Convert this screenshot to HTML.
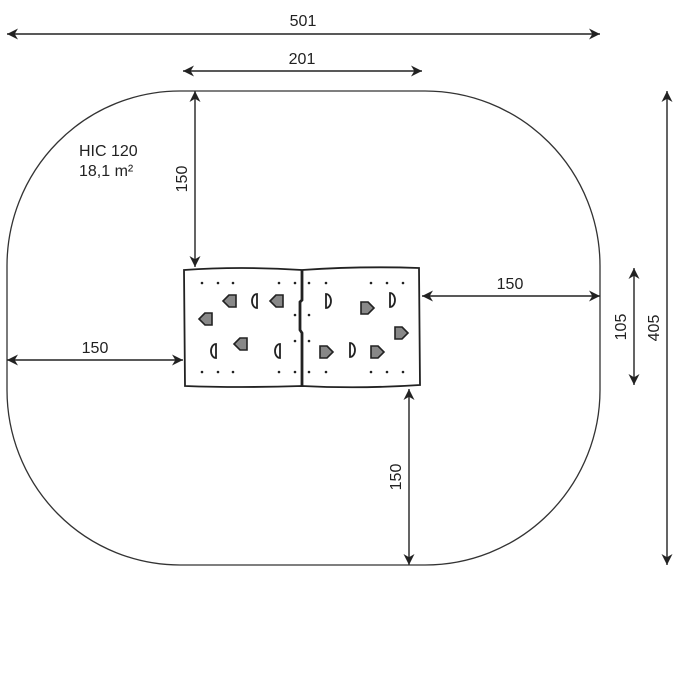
<!DOCTYPE html>
<html><head><style>body{margin:0;background:#fff}svg{display:block}</style></head><body>
<svg width="680" height="680" viewBox="0 0 680 680" xmlns="http://www.w3.org/2000/svg" font-family="Liberation Sans, sans-serif">
<defs>
<marker id="a" viewBox="0 0 10 10" refX="10" refY="5" markerWidth="11" markerHeight="11" orient="auto-start-reverse" markerUnits="userSpaceOnUse"><path d="M0,0 L10,5 L0,10 L3,5 Z" fill="#222"/></marker>
</defs>
<g fill="none" stroke="#333" stroke-width="1.3">
<path d="M180,91 L425,91 A175,175 0 0 1 600,266 L600,390 A175,175 0 0 1 425,565 L180,565 A173,175 0 0 1 7,390 L7,266 A173,175 0 0 1 180,91 Z"/>
</g>
<g stroke="#222" stroke-width="1.4" marker-start="url(#a)" marker-end="url(#a)">
<line x1="7" y1="34" x2="600" y2="34"/>
<line x1="183" y1="71" x2="422" y2="71"/>
<line x1="195" y1="91" x2="195" y2="267"/>
<line x1="422" y1="296" x2="600" y2="296"/>
<line x1="7" y1="360" x2="183" y2="360"/>
<line x1="409" y1="389" x2="409" y2="565"/>
<line x1="634" y1="268" x2="634" y2="385"/>
<line x1="667" y1="91" x2="667" y2="565"/>
</g>
<g fill="#222" font-size="16">
<text x="303" y="26" text-anchor="middle">501</text>
<text x="302" y="64" text-anchor="middle">201</text>
<text x="510" y="289" text-anchor="middle">150</text>
<text x="95" y="353" text-anchor="middle">150</text>
<text x="79" y="156">HIC 120</text>
<text x="79" y="176">18,1 m²</text>
<text transform="translate(187,179) rotate(-90)" text-anchor="middle">150</text>
<text transform="translate(401,477) rotate(-90)" text-anchor="middle">150</text>
<text transform="translate(626,327) rotate(-90)" text-anchor="middle">105</text>
<text transform="translate(659,328) rotate(-90)" text-anchor="middle">405</text>
</g>
<g fill="none" stroke="#222" stroke-width="1.8">
<path d="M184,270 Q240,266 302,270 Q360,266 419,268 L420,385 Q360,389 302,386 Q240,388 185,386 Z"/>
<path d="M302,270 L302,300 L300,302 L300,330 L302,333 L302,386" stroke-width="2.8"/>
</g>
<g fill="#222">
<circle cx="202" cy="283" r="1.3"/><circle cx="218" cy="283" r="1.3"/><circle cx="233" cy="283" r="1.3"/><circle cx="279" cy="283" r="1.3"/><circle cx="295" cy="283" r="1.3"/>
<circle cx="309" cy="283" r="1.3"/><circle cx="326" cy="283" r="1.3"/><circle cx="371" cy="283" r="1.3"/><circle cx="387" cy="283" r="1.3"/><circle cx="403" cy="283" r="1.3"/>
<circle cx="202" cy="372" r="1.3"/><circle cx="218" cy="372" r="1.3"/><circle cx="233" cy="372" r="1.3"/><circle cx="279" cy="372" r="1.3"/><circle cx="295" cy="372" r="1.3"/>
<circle cx="309" cy="372" r="1.3"/><circle cx="326" cy="372" r="1.3"/><circle cx="371" cy="372" r="1.3"/><circle cx="387" cy="372" r="1.3"/><circle cx="403" cy="372" r="1.3"/>
<circle cx="295" cy="315" r="1.3"/><circle cx="309" cy="315" r="1.3"/><circle cx="295" cy="341" r="1.3"/><circle cx="309" cy="341" r="1.3"/>
</g>
<g fill="#888" stroke="#222" stroke-width="1.6">
<path d="M229,295 l-6,6 l6,6 l7,0 l0,-12 z"/><path d="M276,295 l-6,6 l6,6 l7,0 l0,-12 z"/><path d="M205,313 l-6,6 l6,6 l7,0 l0,-12 z"/><path d="M240,338 l-6,6 l6,6 l7,0 l0,-12 z"/>
<path d="M368,302 l6,6 l-6,6 l-7,0 l0,-12 z"/><path d="M402,327 l6,6 l-6,6 l-7,0 l0,-12 z"/><path d="M327,346 l6,6 l-6,6 l-7,0 l0,-12 z"/><path d="M378,346 l6,6 l-6,6 l-7,0 l0,-12 z"/>
</g>
<g fill="#fff" stroke="#222" stroke-width="1.8">
<path d="M257,294 a5,7 0 1 0 0,14 z"/><path d="M216,344 a5,7 0 1 0 0,14 z"/><path d="M280,344 a5,7 0 1 0 0,14 z"/>
<path d="M326,294 a5,7 0 1 1 0,14 z"/><path d="M390,293 a5,7 0 1 1 0,14 z"/><path d="M350,343 a5,7 0 1 1 0,14 z"/>
</g>
</svg>
</body></html>
